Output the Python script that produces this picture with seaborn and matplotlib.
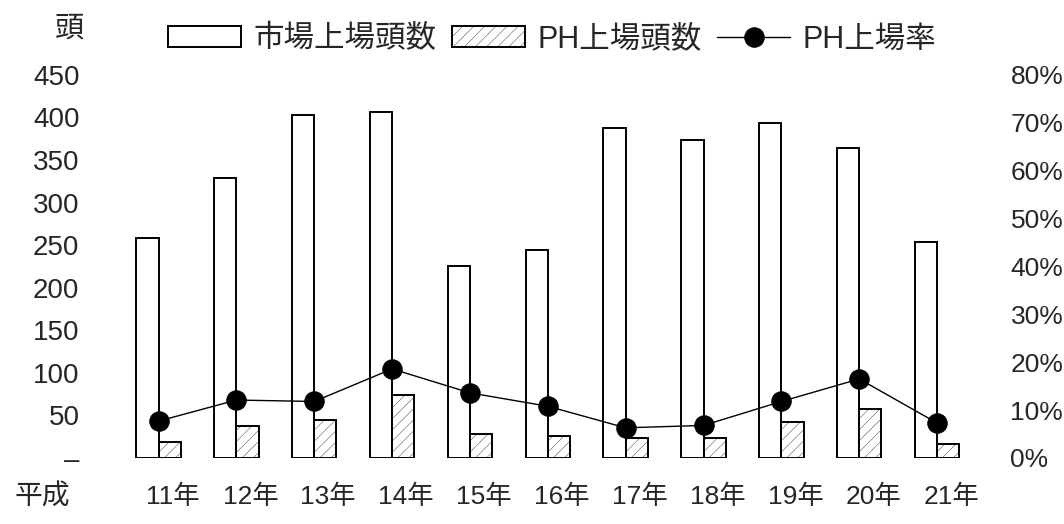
import matplotlib
matplotlib.use("Agg")
import matplotlib.pyplot as plt
import matplotlib.transforms as mtransforms
import numpy as np
import pandas as pd
import seaborn as sns

# values
years = ["11年", "12年", "13年", "14年", "15年", "16年", "17年", "18年", "19年", "20年", "21年"]
market_heads = [258, 329, 403, 406, 225, 244, 388, 374, 393, 364, 254]  # 市場上場頭数
ph_heads = [19, 38, 45, 74, 28, 26, 23, 23, 42, 57, 16]  # PH上場頭数
ph_rate = [7.7, 12.1, 11.8, 18.6, 13.6, 10.8, 6.3, 6.8, 11.8, 16.5, 7.3]  # PH上場率 (%)

left_ticks = [0, 50, 100, 150, 200, 250, 300, 350, 400, 450]
left_labels = ["–", "50", "100", "150", "200", "250", "300", "350", "400", "450"]
right_ticks = [0, 10, 20, 30, 40, 50, 60, 70, 80]

sns.set_theme(style="white")
plt.rcParams["font.family"] = ["Liberation Sans", "Noto Sans CJK JP"]
plt.rcParams["hatch.linewidth"] = 0.25

df = pd.DataFrame({
    "year": years * 2,
    "heads": market_heads + ph_heads,
    "series": ["市場上場頭数"] * len(years) + ["PH上場頭数"] * len(years),
})

fig = plt.figure(figsize=(10.64, 5.24), dpi=100)
ax = fig.add_axes([0.119, 0.126, 0.802, 0.731])

sns.barplot(data=df, x="year", y="heads", hue="series",
            palette={"市場上場頭数": "white", "PH上場頭数": "white"},
            width=0.57, gap=0, edgecolor="black", linewidth=1.4,
            legend=False, ax=ax)
for bar in ax.containers[1]:
    bar.set_hatch("///")

ax.set_xlim(-0.41, 10.55)
ax.set_ylim(0, 450)
ax.set_yticks(left_ticks)
ax.set_yticklabels(left_labels, fontsize=20)
ax.tick_params(axis="y", length=0, pad=34)
ax.tick_params(axis="x", length=0, pad=19, labelsize=19)
ax.set_xlabel("")
ax.set_ylabel("")
# year labels sit slightly right of the group centre
offset = mtransforms.ScaledTranslation(14 / 100, 0, fig.dpi_scale_trans)
for lab in ax.get_xticklabels():
    lab.set_transform(lab.get_transform() + offset)
for s in ax.spines.values():
    s.set_visible(False)

ax2 = ax.twinx()
sns.lineplot(x=np.arange(len(years)), y=ph_rate, ax=ax2, color="black",
             marker="o", markersize=14, linewidth=1, markeredgecolor="black")
ax2.set_ylim(0, 80)
ax2.set_yticks(right_ticks)
ax2.set_yticklabels([f"{t}%" for t in right_ticks], fontsize=19)
ax2.tick_params(axis="y", length=0, pad=22)
ax2.set_ylabel("")
for s in ax2.spines.values():
    s.set_visible(False)

handles = [ax.containers[0][0], ax.containers[1][0], ax2.lines[0]]
labels = ["市場上場頭数", "PH上場頭数", "PH上場率"]
fig.legend(handles, labels, loc="center left", bbox_to_anchor=(0.132, 0.925),
           ncol=3, frameon=False, fontsize=22, handlelength=2.4,
           handletextpad=0.4, columnspacing=0.5)

fig.text(0.065, 0.945, "頭", fontsize=21, ha="center", va="center")
fig.text(0.040, 0.05, "平成", fontsize=20, ha="center", va="center")

fig.savefig("out.png", dpi=100)
